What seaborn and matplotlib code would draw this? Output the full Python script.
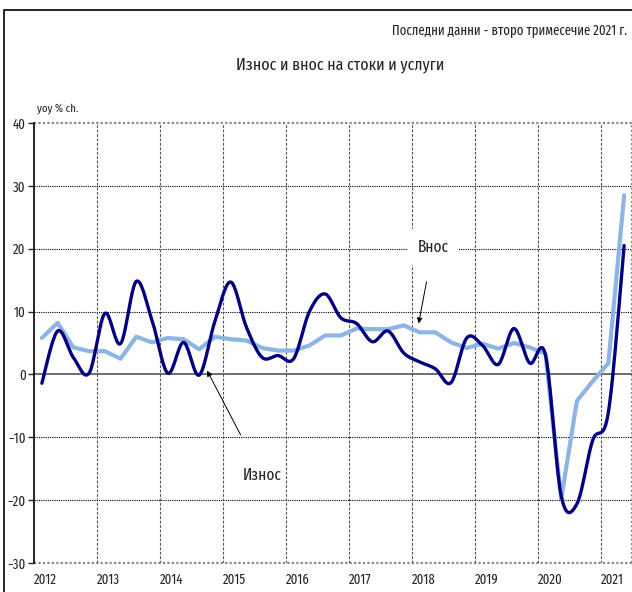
import numpy as np
import pandas as pd
import matplotlib
matplotlib.use('Agg')
import matplotlib.pyplot as plt
import seaborn as sns
from matplotlib.patches import Rectangle

# Quarterly data 2012Q1 - 2021Q2, yoy % ch.
years = list(range(2012, 2022))
quarters = [(y, q) for y in years for q in range(1, 5)][:38]
iznos = [-1.4, 6.9, 2.7, 0.2, 9.7, 4.9, 14.8, 8.6, 0.2, 5.1, -0.1, 8.5,
         14.7, 7.5, 2.7, 3.0, 2.5, 10.0, 12.8, 9.0, 8.1, 5.2, 6.9, 3.4,
         2.0, 0.9, -1.3, 5.8, 4.6, 1.6, 7.3, 1.8, 3.1, -19.3, -20.6, -10.5,
         -6.0, 20.5]
vnos = [5.8, 8.2, 4.3, 3.7, 3.7, 2.5, 6.0, 5.1, 5.8, 5.6, 4.0, 6.0,
        5.6, 5.4, 4.2, 3.8, 3.8, 4.6, 6.2, 6.2, 7.3, 7.2, 7.2, 7.8,
        6.7, 6.7, 5.1, 4.2, 4.9, 4.1, 5.0, 4.3, 3.3, -19.8, -4.2, -1.1,
        1.8, 28.5]

df = pd.DataFrame({'t': [y + (q - 0.5) / 4 for y, q in quarters],
                   'iznos': iznos, 'vnos': vnos})


def smooth(x, y, n=20):
    # Catmull-Rom curve through the points, like Excel's smoothed line
    x = np.asarray(x, float)
    y = np.asarray(y, float)
    px = np.concatenate([[x[0]], x, [x[-1]]])
    py = np.concatenate([[y[0]], y, [y[-1]]])
    xs, ys = [], []
    s = np.linspace(0, 1, n, endpoint=False)
    for i in range(1, len(px) - 2):
        for P, out in ((px, xs), (py, ys)):
            p0, p1, p2, p3 = P[i - 1], P[i], P[i + 1], P[i + 2]
            out.extend(0.5 * (2 * p1 + (-p0 + p2) * s
                              + (2 * p0 - 5 * p1 + 4 * p2 - p3) * s ** 2
                              + (-p0 + 3 * p1 - 3 * p2 + p3) * s ** 3))
    xs.append(x[-1])
    ys.append(y[-1])
    return pd.DataFrame({'t': xs, 'v': ys})


sns.set_style('white')
plt.rcParams['font.family'] = ['Fira Sans Extra Condensed', 'DejaVu Sans']

fig = plt.figure(figsize=(6.32, 5.92), dpi=100)
fig.patches.append(Rectangle((4 / 632, -0.1), 1.2, 1 - 10 / 592 + 0.1,
                             transform=fig.transFigure, fill=False,
                             edgecolor='black', linewidth=1.2))
ax = fig.add_axes([34 / 632, 1 - 563 / 592, 598 / 632, 440 / 592])

sm = smooth(df['t'], df['iznos'])
sns.lineplot(data=sm, x='t', y='v', ax=ax, color='#000080', linewidth=2.4,
             sort=False, zorder=4)
sns.lineplot(data=df, x='t', y='vnos', ax=ax, color='#8db4e2', linewidth=3.0,
             zorder=3)

ax.set_xlim(2012, 2021.5)
ax.set_ylim(-30, 40)
ax.set_yticks(range(-30, 41, 10))
ax.set_xticks(years)
ax.set_xticklabels([str(y) for y in years], ha='left')
ax.tick_params(axis='x', length=0, pad=7, labelsize=10)
ax.tick_params(axis='y', length=4, width=1, direction='out', left=True,
               pad=2, labelsize=10)
ax.set_xlabel('')
ax.set_ylabel('')

for s in ['top', 'right', 'bottom']:
    ax.spines[s].set_visible(False)
ax.spines['left'].set_color('black')
ax.spines['left'].set_linewidth(1.2)

for yv in [-20, -10, 10, 20, 30]:
    ax.axhline(yv, color='black', linestyle=(0, (1, 1)), linewidth=0.8, zorder=1)
for yv in [-30, 40]:
    ax.axhline(yv, color='#888888', linestyle=(0, (1, 1)), linewidth=1.6,
               zorder=1, clip_on=False)
ax.axhline(0, color='#555555', linewidth=1.2, zorder=2)
for xv in years[1:]:
    ax.axvline(xv, color='#555555', linestyle=(0, (2.5, 1.5)), linewidth=0.8,
               zorder=1)
ax.axvline(2021.5, color='#888888', linestyle=(0, (1, 1)), linewidth=1.6,
           zorder=1, clip_on=False)

ax.annotate('Внос', xy=(2018.11, 8.1), xytext=(2018.34, 20.2),
            ha='center', va='center', fontsize=12,
            bbox=dict(boxstyle='square,pad=0.6', fc='white', ec='none'),
            arrowprops=dict(arrowstyle='-|>', color='black', lw=0.7,
                            mutation_scale=8, shrinkA=12, shrinkB=0),
            zorder=6)
ax.annotate('Износ', xy=(2014.75, 0.6), xytext=(2015.62, -16.1),
            ha='center', va='center', fontsize=12,
            arrowprops=dict(arrowstyle='-|>', color='black', lw=0.7,
                            mutation_scale=8, shrinkA=24, shrinkB=0),
            zorder=6)

fig.text(37 / 632, 1 - 109 / 592, 'yoy % ch.', fontsize=8.5, ha='left',
         va='center')
fig.text(340 / 632, 1 - 65 / 592, 'Износ и внос на стоки и услуги',
         fontsize=12.5, ha='center', va='center')
fig.text(627 / 632, 1 - 30 / 592, 'Последни данни - второ тримесечие 2021 г.',
         fontsize=10, ha='right', va='center')

fig.savefig('out.png', dpi=100)
